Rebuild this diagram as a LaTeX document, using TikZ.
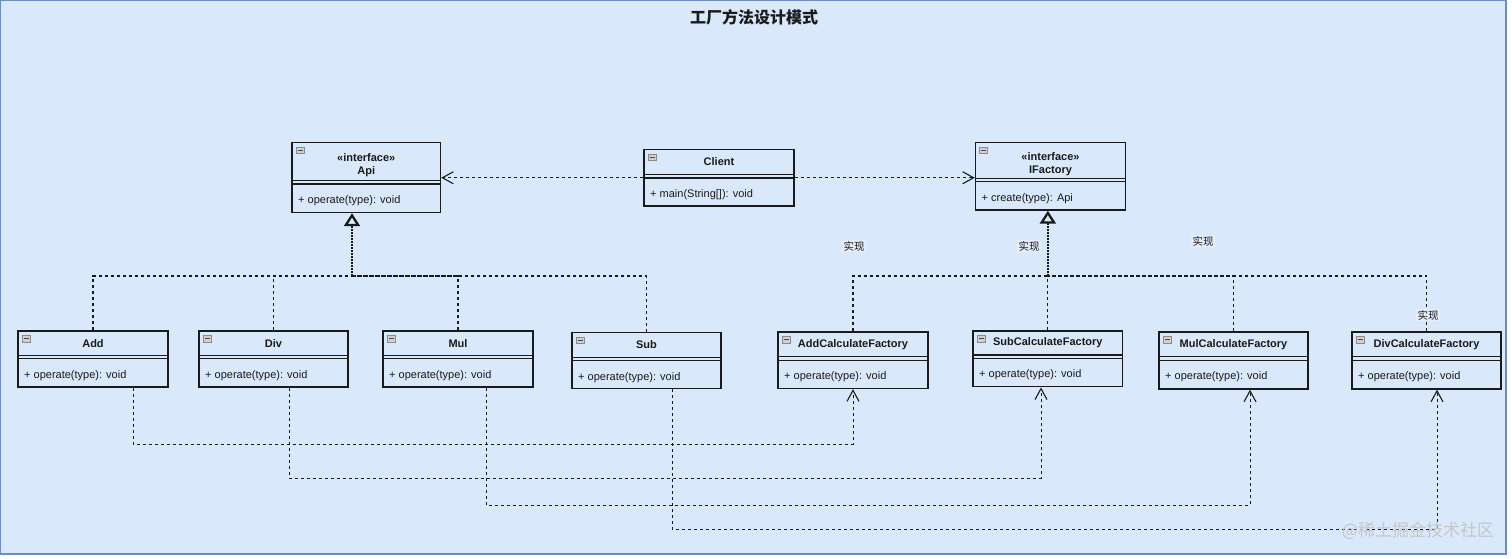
\documentclass[tikz,border=0pt]{standalone}
\usepackage{fontspec}
\setmainfont{Liberation Sans}
\newfontfamily\cjk{Noto Sans CJK SC}
\usetikzlibrary{arrows.meta,fit,calc}
\definecolor{bg}{HTML}{DAE8FC}
\definecolor{framec}{HTML}{6C8EBF}
\definecolor{ink}{HTML}{1A1A1A}
\definecolor{iconfill}{HTML}{D0D0D0}
\definecolor{iconline}{HTML}{8A8A8A}
\definecolor{labelbg}{HTML}{E4EDFB}
\tikzset{
  clsbox/.style={draw=ink, line width=1.4pt, inner sep=0pt},
  sepline/.style={draw=ink, line width=1.3pt},
  clstitle/.style={font=\bfseries\fontsize{11}{13}\selectfont, align=center, text=ink, inner sep=0pt},
  clsmethod/.style={anchor=west, font=\fontsize{11}{13}\selectfont, text=ink, inner sep=0pt},
  iconbox/.style={draw=iconline, fill=iconfill, line width=0.6pt},
  iconminus/.style={draw=black!70, line width=0.9pt},
  dep/.style={draw=ink, line width=1pt, dash pattern=on 3pt off 3pt, -{Straight Barb[length=11pt,width=12pt,line width=1.1pt]}},
  real/.style={draw=ink, line width=1.1pt, dash pattern=on 3pt off 3pt},
  realhead/.style={draw=ink, line width=2.4pt, dash pattern=on 2pt off 1pt, -{Triangle[length=13pt,width=16pt,fill=bg,line width=2.3pt]}},
  lbl/.style={font=\cjk\fontsize{10.5}{12}\selectfont, text=ink, fill=labelbg, inner sep=1.5pt},
}
\newcommand\umlclass[9]{%
  \node[clsbox, fit={(#2,#3)(#4,#5)}] (#1) {};
  \draw[sepline] (#2,#6) -- (#4,#6);
  \draw[sepline] (#2,#6+3.5) -- (#4,#6+3.5);
  \node[clstitle] (#1-t) at ({(#2+#4)/2},{(#3+#6)/2+#9}) {#7};
  \node[clsmethod] (#1-m) at (#2+6,#6+20) {#8};
  \draw[iconbox] (#2+4,#3+4.5) rectangle (#2+12,#3+11);
  \draw[iconminus] (#2+5.5,#3+7.75) -- (#2+10.5,#3+7.75);
}
\begin{document}
\begin{tikzpicture}[x=1pt,y=-1pt]
\useasboundingbox (0,0) rectangle (1512,558);
\fill[white] (0,0) rectangle (1512,558);
\path[draw=framec, fill=bg, line width=1.2pt] (0.8,0.8) rectangle (1506,554);

\node[font=\cjk\bfseries\fontsize{16}{18}\selectfont, text=ink] (title) at (754,17) {工厂方法设计模式};

\umlclass{api}{292}{142.5}{440.5}{212.5}{180.5}{«interface»\\Api}{+ operate(type): void}{3.5}
\umlclass{client}{644}{149.5}{794}{206}{174.5}{Client}{+ main(String[]): void}{0}
\umlclass{ifactory}{975.5}{142.5}{1125.5}{210}{178.3}{«interface»\\IFactory}{+ create(type): Api}{3.5}

\umlclass{add}{18}{331}{168}{387}{355.3}{Add}{+ operate(type): void}{0}
\umlclass{div}{199}{331}{348}{387}{355.3}{Div}{+ operate(type): void}{0}
\umlclass{mul}{383}{331}{533}{387}{355.3}{Mul}{+ operate(type): void}{0}
\umlclass{sub}{572}{332.5}{721}{388.5}{357.3}{Sub}{+ operate(type): void}{0}

\umlclass{acf}{778}{332}{928}{388.5}{356.7}{AddCalculateFactory}{+ operate(type): void}{0}
\umlclass{scf}{973}{331}{1122.7}{386.7}{355}{SubCalculateFactory}{+ operate(type): void}{0}
\umlclass{mcf}{1159}{332}{1308}{389}{356.7}{MulCalculateFactory}{+ operate(type): void}{0}
\umlclass{dcf}{1352}{332}{1501}{389}{356.7}{DivCalculateFactory}{+ operate(type): void}{0}

% Client dependencies
\draw[dep] (client.west) -- (client.west -| api.east);
\draw[dep] (client.east) -- (client.east -| ifactory.west);

% realization to Api
\coordinate (jA) at (352,276);
\draw[real] (add.north) |- (jA);
\draw[real] (div.north) |- (jA);
\draw[real] (mul.north) |- (jA);
\draw[real] (sub.north) |- (jA);
\draw[realhead] (jA) -- (jA |- api.south);

% realization to IFactory
\coordinate (jF) at (scf.north |- 0,276);
\draw[real] (acf.north) |- (jF);
\draw[real] (scf.north) -- (jF);
\draw[real] (mcf.north) |- (jF);
\draw[real] (dcf.north) |- (jF);
\draw[realhead] (jF) -- (jF |- ifactory.south);

% bottom dependencies
\coordinate (d1) at (133,444);
\coordinate (e1) at (acf.south |- 0,444);
\draw[dep] (d1 |- add.south) -- (d1) -- (e1) -- (acf.south);
\coordinate (d2) at (289,478);
\coordinate (e2) at (1041,478);
\draw[dep] (d2 |- div.south) -- (d2) -- (e2) -- (e2 |- scf.south);
\coordinate (d3) at (486,505);
\coordinate (e3) at (1250,505);
\draw[dep] (d3 |- mul.south) -- (d3) -- (e3) -- (e3 |- mcf.south);
\coordinate (d4) at (672,529);
\coordinate (e4) at (1437,529);
\draw[dep] (d4 |- sub.south) -- (d4) -- (e4) -- (e4 |- dcf.south);

% labels
\node[lbl] (l1) at (854,246) {实现};
\node[lbl] (l2) at (1029,246) {实现};
\node[lbl] (l3) at (1203,241) {实现};
\node[lbl] (l4) at (1428,315) {实现};

\node[font=\cjk\fontsize{17}{19}\selectfont, text=white!55!gray, inner sep=0pt] (wm) at (1418,531) {@稀土掘金技术社区};
\end{tikzpicture}
\end{document}
